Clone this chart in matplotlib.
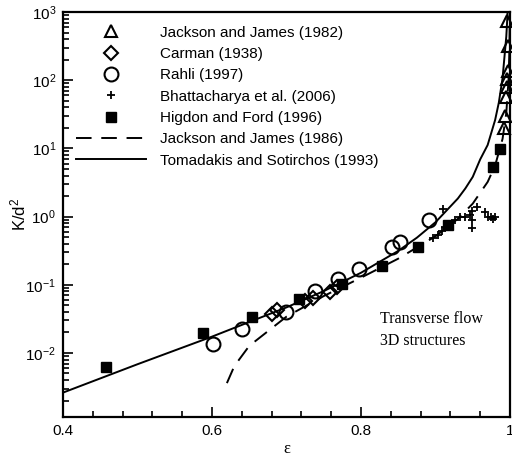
import matplotlib
matplotlib.use("Agg")
import matplotlib.pyplot as plt
from matplotlib.ticker import MultipleLocator, FuncFormatter, LogLocator, NullFormatter

plt.rcParams['font.family'] = ['Liberation Sans', 'DejaVu Sans']
plt.rcParams['mathtext.default'] = 'regular'

# Jackson and James (1982) - open triangles
jj82_eps = [0.996, 0.9973, 0.9973, 0.996, 0.996, 0.9948, 0.9933, 0.992]
jj82_k = [738, 316, 135, 103, 79, 56, 29.5, 20]

# Carman (1938) - open diamonds
carman_eps = [0.680, 0.687, 0.725, 0.736, 0.758, 0.768]
carman_k = [0.037, 0.043, 0.058, 0.064, 0.078, 0.092]

# Rahli (1997) - open circles
rahli_eps = [0.601, 0.640, 0.700, 0.738, 0.769, 0.797, 0.842, 0.852, 0.891]
rahli_k = [0.0135, 0.0225, 0.040, 0.082, 0.122, 0.170, 0.36, 0.42, 0.88]

# Bhattacharya et al. (2006) - plus signs
bhat_eps = [0.897, 0.903, 0.909, 0.913, 0.910, 0.918, 0.926, 0.933, 0.940,
            0.946, 0.949, 0.949, 0.949, 0.956, 0.966, 0.970, 0.975, 0.977, 0.980]
bhat_k = [0.49, 0.54, 0.62, 0.70, 1.31, 0.75, 0.90, 0.97, 0.97,
          1.07, 1.19, 0.90, 0.69, 1.40, 1.15, 1.00, 1.00, 0.93, 0.97]

# Higdon and Ford (1996) - filled squares
hf_eps = [0.458, 0.588, 0.654, 0.717, 0.774, 0.828, 0.877, 0.917, 0.977, 0.987]
hf_k = [0.0062, 0.0197, 0.034, 0.062, 0.102, 0.19, 0.36, 0.76, 5.4, 9.7]

# Jackson and James (1986) - dashed
jj86_eps = [0.62, 0.63, 0.65, 0.70, 0.75, 0.80, 0.85, 0.90, 0.93, 0.95,
            0.97, 0.98, 0.99, 0.995, 0.998, 0.999, 0.9995, 0.9998]
jj86_k = [0.00361, 0.00642, 0.0127, 0.0341, 0.0683, 0.127, 0.2415, 0.514, 0.926, 1.548,
          3.22, 5.59, 13.78, 32.75, 99.1, 224, 500, 1422]

# Tomadakis and Sotirchos (1993) - solid
ts_eps = [0.40, 0.50, 0.60, 0.70, 0.75, 0.80, 0.85, 0.875, 0.90, 0.93, 0.94,
          0.95, 0.96, 0.97, 0.98, 0.985, 0.99, 0.995, 0.996, 0.997]
ts_k = [0.00262, 0.00683, 0.01735, 0.0466, 0.0808, 0.150, 0.314, 0.490, 0.826, 1.84, 2.58,
        3.82, 6.9, 11.2, 26.0, 46.9, 107, 434, 679, 1211]

fig = plt.figure(figsize=(5.12, 4.58), dpi=100)
ax = fig.add_axes([63 / 512, 41 / 458, 447 / 512, 405 / 458])

ax.plot(jj82_eps, jj82_k, '^', ms=9, mfc='none', mec='black', mew=1.5,
        ls='none', label='Jackson and James (1982)', clip_on=False, zorder=4)
ax.plot(carman_eps, carman_k, 'D', ms=7, mfc='none', mec='black', mew=1.5,
        ls='none', label='Carman (1938)', zorder=4)
ax.plot(rahli_eps, rahli_k, 'o', ms=10, mfc='none', mec='black', mew=1.5,
        ls='none', label='Rahli (1997)', zorder=4)
ax.plot(bhat_eps, bhat_k, '+', ms=6, mec='black', mew=1.3,
        ls='none', label='Bhattacharya et al. (2006)', zorder=4)
ax.plot(hf_eps, hf_k, 's', ms=7, mfc='black', mec='black',
        ls='none', label='Higdon and Ford (1996)', zorder=4)
ax.plot(jj86_eps, jj86_k, color='black', lw=1.4, ls=(0, (8, 5)),
        label='Jackson and James (1986)')
ax.plot(ts_eps, ts_k, color='black', lw=1.4, label='Tomadakis and Sotirchos (1993)')

ax.set_yscale('log')
ax.set_xlim(0.4, 1.0)
ax.set_ylim(1.15e-3, 1e3)

ax.xaxis.set_major_locator(MultipleLocator(0.2))
ax.xaxis.set_minor_locator(MultipleLocator(0.04))
ax.xaxis.set_major_formatter(FuncFormatter(lambda v, p: '%g' % round(v, 2)))
ax.yaxis.set_major_locator(LogLocator(base=10, numticks=20))
ax.yaxis.set_minor_locator(LogLocator(base=10, subs=range(2, 10), numticks=20))
ax.yaxis.set_minor_formatter(NullFormatter())

ax.tick_params(which='both', direction='in', top=False, right=False, labelsize=11, width=1.2)
ax.tick_params(which='major', length=7, pad=5)
ax.tick_params(which='minor', length=4)
for s in ax.spines.values():
    s.set_linewidth(1.6)

ax.set_xlabel('ε', family=['Liberation Serif'], fontsize=12, labelpad=2)
ax.set_ylabel('K/d$^2$', fontsize=12, labelpad=-2)

ax.text(0.709, 0.262, 'Transverse flow\n3D structures', transform=ax.transAxes,
        family=['Liberation Serif'], fontsize=11.5, va='top', ha='left', linespacing=1.5)

ax.legend(loc='upper left', bbox_to_anchor=(13 / 447, 0.966), frameon=False,
          borderpad=0, borderaxespad=0, fontsize=11, handlelength=4.6,
          handletextpad=0.92, labelspacing=0.48, numpoints=1)

fig.savefig('out.png', dpi=100)
